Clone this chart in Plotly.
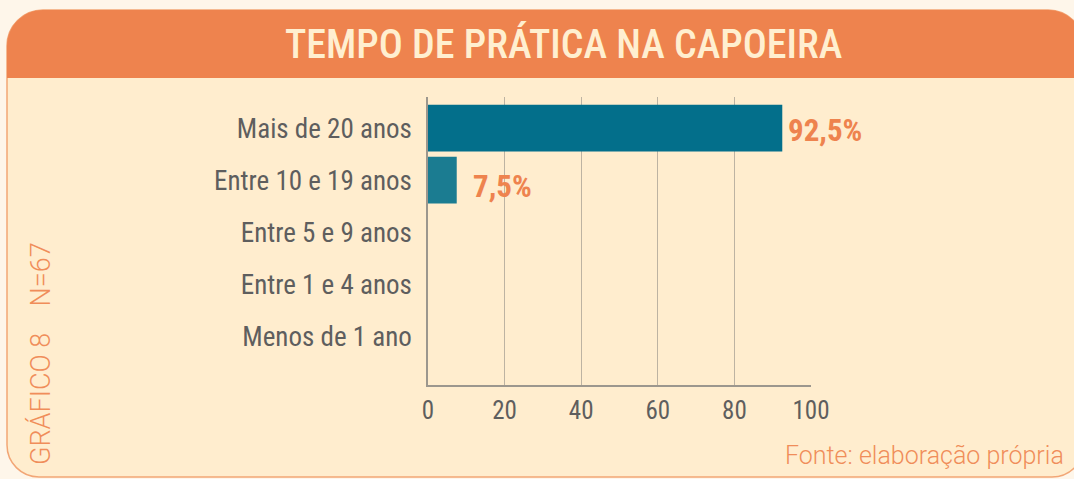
import plotly.graph_objects as go

categories = ["Mais de 20 anos", "Entre 10 e 19 anos", "Entre 5 e 9 anos", "Entre 1 e 4 anos", "Menos de 1 ano"]
values = [92.5, 7.5, 0, 0, 0]
value_labels = ["92,5%", "7,5%", "", "", ""]
x_ticks = [0, 20, 40, 60, 80, 100]
title_text = "TEMPO DE PRÁTICA NA CAPOEIRA"
side_text = "GRÁFICO 8\u00a0\u00a0\u00a0\u00a0N=67"
source_text = "Fonte: elaboração própria"

W, H = 1074, 479
L, R, T, B = 428, 263, 97, 94
PW, PH = W - L - R, H - T - B

COND = "'Roboto Condensed', 'Liberation Sans Narrow', 'DejaVu Sans Condensed', Roboto, sans-serif"
ORANGE = "#EE834E"
LIGHT_ORANGE = "#F08D5A"


def X(px):
    return (px - L) / PW


def Y(py):
    return 1 - (py - T) / PH


def rounded_path(x0, y0, x1, y1, r_top, r_bot):
    k = 0.5523
    pts = []
    pts.append(f"M {X(x0)},{Y(y0 + r_top)}")
    pts.append(f"C {X(x0)},{Y(y0 + r_top - k*r_top)} {X(x0 + r_top - k*r_top)},{Y(y0)} {X(x0 + r_top)},{Y(y0)}")
    pts.append(f"L {X(x1 - r_top)},{Y(y0)}")
    pts.append(f"C {X(x1 - r_top + k*r_top)},{Y(y0)} {X(x1)},{Y(y0 + r_top - k*r_top)} {X(x1)},{Y(y0 + r_top)}")
    if r_bot > 0:
        pts.append(f"L {X(x1)},{Y(y1 - r_bot)}")
        pts.append(f"C {X(x1)},{Y(y1 - r_bot + k*r_bot)} {X(x1 - r_bot + k*r_bot)},{Y(y1)} {X(x1 - r_bot)},{Y(y1)}")
        pts.append(f"L {X(x0 + r_bot)},{Y(y1)}")
        pts.append(f"C {X(x0 + r_bot - k*r_bot)},{Y(y1)} {X(x0)},{Y(y1 - r_bot + k*r_bot)} {X(x0)},{Y(y1 - r_bot)}")
    else:
        pts.append(f"L {X(x1)},{Y(y1)}")
        pts.append(f"L {X(x0)},{Y(y1)}")
    pts.append("Z")
    return " ".join(pts)


bar_colors = ["#036F8B", "#1B7C91", "#1B7C91", "#1B7C91", "#1B7C91"]

fig = go.Figure(go.Bar(
    x=values, y=categories, orientation="h",
    marker=dict(color=bar_colors, line=dict(width=0)),
    width=0.9, hoverinfo="skip",
))

shapes = [
    dict(type="path", xref="paper", yref="paper", layer="below",
         path=rounded_path(7, 10, 1084, 477, 36, 32),
         fillcolor="#FFEDCE", line=dict(color="#F2A676", width=1.5)),
    dict(type="path", xref="paper", yref="paper", layer="below",
         path=rounded_path(7, 10, 1084, 78, 36, 0),
         fillcolor=ORANGE, line=dict(width=0)),
]

annotations = [
    dict(x=X(563), y=Y(45), xref="paper", yref="paper", text=title_text, showarrow=False,
         font=dict(family=COND, size=40, color="#FFEFD0", weight=500), xanchor="center", yanchor="middle"),
    dict(x=X(41), y=Y(354), xref="paper", yref="paper", text=side_text, showarrow=False, textangle=-90,
         font=dict(family="Roboto, sans-serif", size=27, color=LIGHT_ORANGE, weight=300),
         xanchor="center", yanchor="middle"),
    dict(x=X(1066), y=Y(455), xref="paper", yref="paper", text=source_text, showarrow=False,
         font=dict(family="Roboto, sans-serif", size=25, color=LIGHT_ORANGE, weight=300),
         xanchor="right", yanchor="middle"),
]
shifts = [(4, -2), (14, -6)]
for i, (v, lab) in enumerate(zip(values, value_labels)):
    if lab:
        annotations.append(dict(x=v, y=categories[i], xref="x", yref="y", text=lab, showarrow=False,
                                xanchor="left", yanchor="middle", xshift=shifts[i][0], yshift=shifts[i][1],
                                font=dict(family=COND, size=31, color=ORANGE, weight=700)))

fig.update_layout(
    width=W, height=H,
    margin=dict(l=L, r=R, t=T, b=B),
    paper_bgcolor="#FEF6EA", plot_bgcolor="rgba(0,0,0,0)",
    shapes=shapes, annotations=annotations, showlegend=False,
    bargap=0.1,
)
fig.update_xaxes(range=[0, 100], tickvals=x_ticks, ticks="", showgrid=True, gridcolor="#BDB3A2", gridwidth=1,
                 zeroline=False, showline=True, linecolor="#9C978E", linewidth=1.5,
                 tickfont=dict(family=COND, size=25, color="#5E5E5E"), ticklabelstandoff=2, fixedrange=True)
fig.update_yaxes(type="category", categoryorder="array", categoryarray=categories, range=[4.94, -0.6],
                 ticks="", showgrid=False, zeroline=False, showline=True, linecolor="#9C978E", linewidth=1.5,
                 tickfont=dict(family=COND, size=27, color="#5E5E5E"), ticklabelstandoff=9, fixedrange=True)

fig.write_html("out.html", config={"displayModeBar": False},
               post_script="document.body.style.margin='0';document.body.style.overflow='hidden';")
